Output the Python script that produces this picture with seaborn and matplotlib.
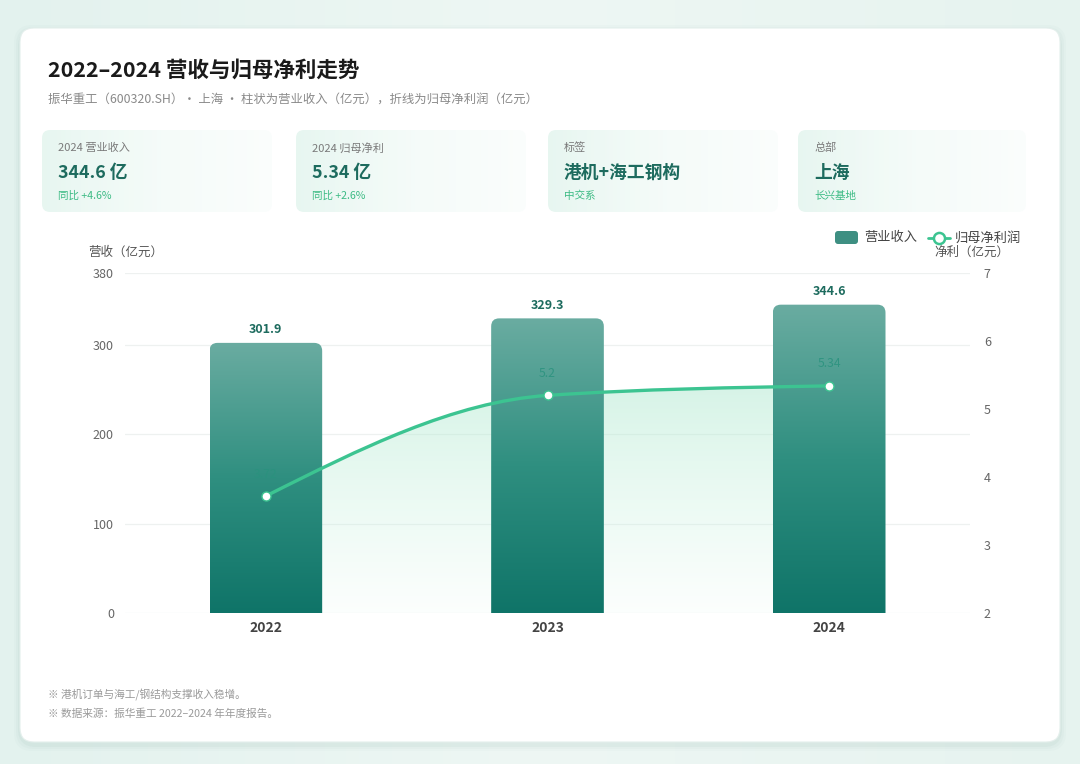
import numpy as np
import matplotlib
matplotlib.use("Agg")
import matplotlib.pyplot as plt
import seaborn as sns
from matplotlib.patches import FancyBboxPatch, PathPatch
from matplotlib.path import Path
from matplotlib.colors import LinearSegmentedColormap, to_rgba
from matplotlib.lines import Line2D

# ---------------- data ----------------
years = ["2022", "2023", "2024"]
revenue = [301.9, 329.3, 344.6]
profit = [3.72, 5.2, 5.34]
revenue_ticks = [0, 100, 200, 300, 380]
profit_ticks = [2, 3, 4, 5, 6, 7]
kpi_labels = ["2024 营业收入", "2024 归母净利", "标签", "总部"]
kpi_values = ["344.6 亿", "5.34 亿", "港机+海工钢构", "上海"]
kpi_subs = ["同比 +4.6%", "同比 +2.6%", "中交系", "长兴基地"]
title = "2022–2024 营收与归母净利走势"
subtitle = "振华重工（600320.SH）· 上海 · 柱状为营业收入（亿元），折线为归母净利润（亿元）"
notes = ["※ 港机订单与海工/钢结构支撑收入稳增。", "※ 数据来源：振华重工 2022–2024 年年度报告。"]
legend_labels = ["营业收入", "归母净利润"]
left_label = "营收（亿元）"
right_label = "净利（亿元）"

# ---------------- style ----------------
sns.set_theme(style="white")
plt.rcParams['font.family'] = ['Noto Sans CJK SC', 'DejaVu Sans']

W, H = 1080, 764
fig = plt.figure(figsize=(W / 100, H / 100), dpi=100)
fig.patch.set_facecolor('#e8f4f0')

LINE = '#3cc491'
DARK = '#1d6b5e'
GREEN = '#3dbb85'

# background axes in pixel coordinates
bg = fig.add_axes([0, 0, 1, 1])
bg.set_xlim(0, W)
bg.set_ylim(H, 0)
bg.axis('off')

grad_bg = np.linspace(0, 1, 256).reshape(1, -1)
bg_cmap = LinearSegmentedColormap.from_list('bgc', ['#e3f2ee', '#eef7f4', '#e6f3ef'])
bg.imshow(grad_bg, extent=[0, W, H, 0], cmap=bg_cmap, aspect='auto', zorder=0)

for i, a in enumerate([0.015, 0.025, 0.035]):
    off = 6 - i * 2
    bg.add_patch(FancyBboxPatch((20 - off, 28 - off + 3), 1040 + 2 * off, 714 + 2 * off,
                                boxstyle="round,pad=0,rounding_size=18",
                                fc=(0.1, 0.4, 0.35, a), ec='none', zorder=1))
bg.add_patch(FancyBboxPatch((20, 28), 1040, 714, boxstyle="round,pad=0,rounding_size=14",
                            fc='white', ec='#e4efec', lw=0.8, zorder=2))

bg.text(48, 70, title, fontsize=15.5, fontweight='bold', color='#1a1a1a', va='center', ha='left', zorder=5)
bg.text(48, 99, subtitle, fontsize=8.9, color='#8a8a8a', va='center', ha='left', zorder=5)

card_x = [42, 296, 548, 798]
card_w = [230, 230, 230, 228]
kpi_cmap = LinearSegmentedColormap.from_list(
    'kpi', [to_rgba('#e6f6f0', 0.95), to_rgba('#eef9f5', 0.6), to_rgba('#f3fbf8', 0.35)])
for x0, w, lab, val, sub in zip(card_x, card_w, kpi_labels, kpi_values, kpi_subs):
    clip = FancyBboxPatch((x0, 130), w, 82, boxstyle="round,pad=0,rounding_size=8",
                          fc='none', ec='none', transform=bg.transData)
    bg.add_patch(clip)
    im = bg.imshow(grad_bg, extent=[x0, x0 + w, 212, 130], cmap=kpi_cmap, aspect='auto', zorder=3)
    im.set_clip_path(clip)
    bg.text(x0 + 16, 148, lab, fontsize=8, color='#7a7a7a', va='center', ha='left', zorder=5)
    bg.text(x0 + 16, 173, val, fontsize=12.8, fontweight='bold', color=DARK, va='center', ha='left', zorder=5)
    bg.text(x0 + 16, 196, sub, fontsize=7.6, color=GREEN, va='center', ha='left', zorder=5)

bg.text(88, 252, left_label, fontsize=9, color='#555555', va='center', ha='left', zorder=5)
bg.text(934, 252, right_label, fontsize=9, color='#555555', va='center', ha='left', zorder=5)

bg.add_patch(FancyBboxPatch((835, 231), 23, 13, boxstyle="round,pad=0,rounding_size=3",
                            fc='#3e8f82', ec='none', zorder=5))
bg.text(864, 238, legend_labels[0], fontsize=9.5, color='#444444', va='center', ha='left', zorder=5)
bg.add_line(Line2D([928, 950], [238, 238], color=LINE, lw=2, zorder=5))
bg.add_line(Line2D([939], [238], marker='o', markersize=8, mfc='white', mec=LINE, mew=1.8, zorder=6))
bg.text(955, 238, legend_labels[1], fontsize=9.5, color='#444444', va='center', ha='left', zorder=5)

for i, n in enumerate(notes):
    bg.text(48, 695 + i * 19, n, fontsize=7.7, color='#9a9a9a', va='center', ha='left', zorder=5)

# ---------------- main axes ----------------
ax_l, ax_r, ax_t, ax_b = 125, 970, 273, 613
ax = fig.add_axes([ax_l / W, 1 - ax_b / H, (ax_r - ax_l) / W, (ax_b - ax_t) / H])
ax.set_facecolor('none')

sns.barplot(x=years, y=revenue, ax=ax, width=0.4, color='#3e8f82', saturation=1, zorder=3)
ax.set_xlim(-0.5, 2.5)
ax.set_ylim(0, 380)

px_x = (ax_r - ax_l) / 3.0
px_y = (ax_b - ax_t) / 380.0
rad_px = 8
bar_cmap = LinearSegmentedColormap.from_list('bar', ['#0f7468', '#2f8f80', '#6aaca1'])
grad_v = np.linspace(0, 1, 256).reshape(-1, 1)
for p in list(ax.patches):
    x0, w, h = p.get_x(), p.get_width(), p.get_height()
    p.set_facecolor('none')
    p.set_edgecolor('none')
    rs = rad_px / px_x
    ma = (rad_px / px_y) / rs
    clip = FancyBboxPatch((x0, -30), w, h + 30, boxstyle=f"round,pad=0,rounding_size={rs}",
                          mutation_aspect=ma, fc='none', ec='none', transform=ax.transData)
    ax.add_patch(clip)
    im = ax.imshow(grad_v, extent=[x0, x0 + w, 0, h], origin='lower', cmap=bar_cmap,
                   aspect='auto', zorder=3)
    im.set_clip_path(clip)
    ax.text(x0 + w / 2, h + 13 / px_y, f"{h:.1f}", ha='center', va='center', fontsize=9,
            fontweight='bold', color=DARK, zorder=6)

ax.set_xlim(-0.5, 2.5)
ax.set_ylim(0, 380)
ax.set_yticks(revenue_ticks)
ax.set_yticklabels([str(t) for t in revenue_ticks])
ax.yaxis.grid(True, color='#eef1f0', lw=0.9)
ax.set_axisbelow(True)
for s in ax.spines.values():
    s.set_visible(False)
ax.tick_params(axis='y', length=0, pad=8, labelsize=9, labelcolor='#666666')
ax.tick_params(axis='x', length=0, pad=6, labelsize=10, labelcolor='#444444')
for t in ax.get_xticklabels():
    t.set_fontweight('bold')
ax.set_xlabel('')
ax.set_ylabel('')

# ---------------- profit curve geometry ----------------
xs = np.arange(len(profit), dtype=float)
ys = np.array(profit, dtype=float)
h_ = np.diff(xs)
s_ = np.diff(ys) / h_
t = np.zeros_like(ys)
for i in range(1, len(ys) - 1):
    pp = (s_[i - 1] * h_[i] + s_[i] * h_[i - 1]) / (h_[i - 1] + h_[i])
    t[i] = (np.sign(s_[i - 1]) + np.sign(s_[i])) * min(abs(s_[i - 1]), abs(s_[i]), 0.5 * abs(pp))
t[0] = (3 * s_[0] - t[1]) / 2
t[-1] = (3 * s_[-1] - t[-2]) / 2
verts = [(xs[0], ys[0])]
codes = [Path.MOVETO]
for i in range(len(xs) - 1):
    dx = h_[i] / 3
    verts += [(xs[i] + dx, ys[i] + t[i] * dx), (xs[i + 1] - dx, ys[i + 1] - t[i + 1] * dx), (xs[i + 1], ys[i + 1])]
    codes += [Path.CURVE4] * 3
line_path = Path(verts, codes)

# area under curve, drawn on the bar axes behind the bars (convert to revenue-axis units)
def to_rev(v):
    return (v - 2) / 5.0 * 380.0
area_verts = [(x, to_rev(y)) for x, y in verts] + [(xs[-1], 0), (xs[0], 0), (xs[0], to_rev(ys[0]))]
area_codes = codes + [Path.LINETO, Path.LINETO, Path.CLOSEPOLY]
area_patch = PathPatch(Path(area_verts, area_codes), fc='none', ec='none', transform=ax.transData)
ax.add_patch(area_patch)
area_cmap = LinearSegmentedColormap.from_list(
    'area', [to_rgba('#c4f0dc', 0.05), to_rgba('#bdeed7', 0.3), to_rgba('#aee8cf', 0.5)])
im = ax.imshow(grad_v, extent=[xs[0], xs[-1], 0, to_rev(ys.max())], origin='lower', cmap=area_cmap,
               aspect='auto', zorder=2)
im.set_clip_path(area_patch)
ax.set_xlim(-0.5, 2.5)
ax.set_ylim(0, 380)

# ---------------- twin axes for profit ----------------
ax2 = ax.twinx()
ax2.set_facecolor('none')
ax2.set_ylim(2, 7)
ax2.set_xlim(-0.5, 2.5)
ax2.set_yticks(profit_ticks)
ax2.set_yticklabels([str(t) for t in profit_ticks])
ax2.grid(False)
for s in ax2.spines.values():
    s.set_visible(False)
ax2.tick_params(axis='y', length=0, pad=10, labelsize=9, labelcolor='#666666')

ax2.add_patch(PathPatch(line_path, fc='none', ec=LINE, lw=2.4, zorder=4, capstyle='round'))
sns.scatterplot(x=xs, y=ys, ax=ax2, s=42, color='white', edgecolor=LINE, linewidth=1.0, zorder=5)
for x, y in zip(xs, ys):
    ax2.text(x, y + 22 / 68.0, f"{y:g}", ha='center', va='center', fontsize=8.8,
             color='#2a927e', alpha=0.85, zorder=6)
ax2.set_xlim(-0.5, 2.5)
ax2.set_ylim(2, 7)
ax2.set_xlabel('')
ax2.set_ylabel('')

fig.savefig('out.png', dpi=100)
